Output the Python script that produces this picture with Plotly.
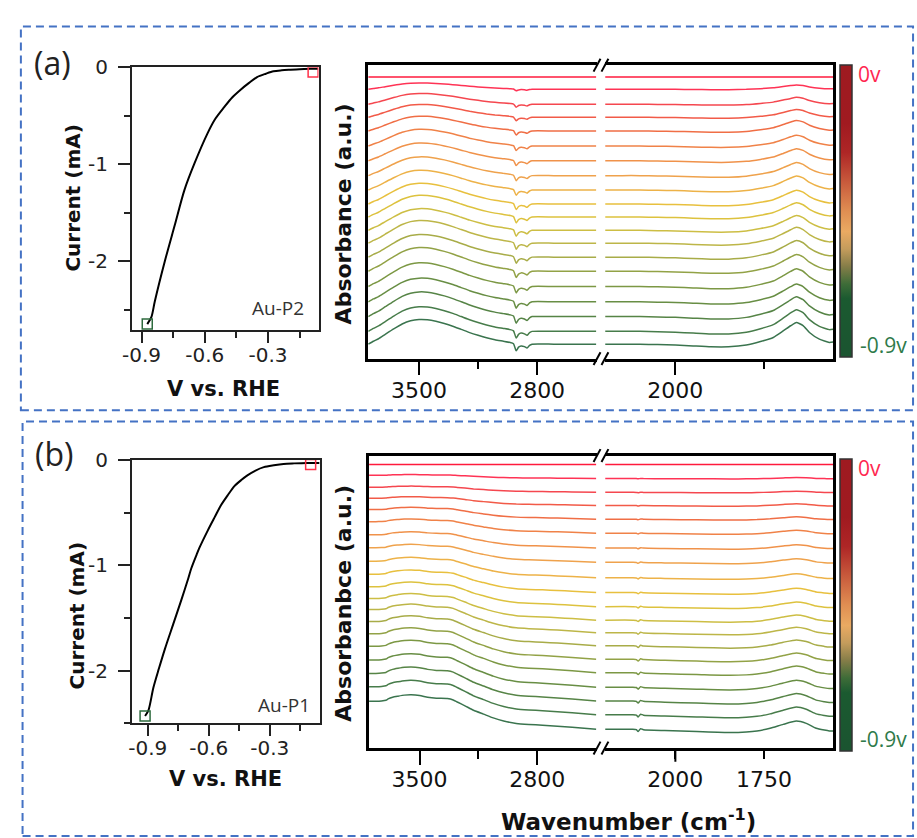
import plotly.graph_objects as go
import numpy as np

W, H = 917, 838
def fx(p): return p / W
def fy(p): return 1 - p / H

# ---------------- LSV data ----------------
lsv_a_v = [-0.873, -0.853, -0.837, -0.79, -0.743, -0.696, -0.649, -0.587, -0.55, -0.508, -0.47,
           -0.43, -0.39, -0.352, -0.31, -0.274, -0.235, -0.196, -0.15, -0.10, -0.063]
lsv_a_i = [-2.645, -2.57, -2.41, -2.0, -1.63, -1.26, -0.99, -0.68, -0.53, -0.41, -0.31,
           -0.23, -0.16, -0.10, -0.065, -0.04, -0.03, -0.024, -0.018, -0.015, -0.014]
lsv_b_v = [-0.913, -0.897, -0.872, -0.845, -0.815, -0.775, -0.735, -0.70, -0.686, -0.66, -0.645,
           -0.605, -0.57, -0.54, -0.505, -0.475, -0.44, -0.41, -0.37, -0.329, -0.28, -0.232, -0.18,
           -0.118, -0.055]
lsv_b_i = [-2.43, -2.38, -2.16, -1.98, -1.79, -1.56, -1.33, -1.12, -1.03, -0.90, -0.83,
           -0.67, -0.54, -0.43, -0.33, -0.25, -0.19, -0.146, -0.10, -0.068, -0.05, -0.037, -0.032,
           -0.028, -0.028]
mark_a_v = [-0.086, -0.873]
mark_a_i = [-0.047, -2.645]
mark_b_v = [-0.099, -0.913]
mark_b_i = [-0.043, -2.43]
mark_colors = ['#FF3048', '#2E6B3E']

lsv_x_ticks = [-0.9, -0.6, -0.3]
lsv_x_ticktext = ['-0.9', '-0.6', '-0.3']
lsv_x_minor = [-0.75, -0.45, -0.15]
lsv_y_ticks = [0, -1, -2]
lsv_y_ticktext = ['0', '-1', '-2']
lsv_y_minor = [-0.5, -1.5, -2.5]

# ---------------- Spectra data (a) ----------------
n_lines = 20
base_a = [0, -12.3, -27.6, -40.8, -54.7, -70.0, -85.0, -100.0, -114.6, -128.8,
          -142.0, -155.5, -168.5, -182.7, -197.0, -212.5, -228.0, -243.0, -258.0, -271.0]
hump_amp_a = [0, 6.3, 11, 13, 15, 17, 18, 19, 20, 21, 22, 22, 23, 23, 24, 24, 24, 25, 25, 25]
bend_amp_a = [0, 4.3, 7, 8, 10.7, 11, 12.3, 13.3, 14.3, 14, 14.5, 15, 16, 17, 17, 18, 18, 20, 22, 22]
wn_left_a = [3800, 3770, 3740, 3700, 3650, 3600, 3550, 3500, 3450, 3400, 3350, 3300, 3250, 3200,
             3150, 3100, 3050, 3000, 2960, 2940, 2924, 2910, 2895, 2875, 2860, 2845, 2830, 2700, 2450]
shape_left_a = [0, 0.12, 0.22, 0.4, 0.62, 0.82, 0.95, 1.0, 0.99, 0.93, 0.84, 0.73, 0.6, 0.47,
                0.36, 0.26, 0.18, 0.12, 0.07, 0.02, -0.27, -0.12, -0.07, -0.1, -0.16, -0.05, 0, 0, 0]
wn_right_a = [2198, 2150, 2100, 2050, 2000, 1950, 1900, 1850, 1800, 1760, 1724, 1696, 1675, 1659,
              1640, 1622, 1594, 1566, 1555]
shape_right_a = [0, 0, 0, -0.02, -0.04, -0.08, -0.12, -0.12, -0.04, 0.12, 0.31, 0.61, 0.85, 1.0,
                 0.86, 0.54, 0.23, 0.08, 0.1]

# ---------------- Spectra data (b) ----------------
base_b = [0, -14.3, -28.3, -41.7, -55.5, -69.7, -84.7, -99.3, -115, -130,
          -144.3, -158, -170.7, -184, -197.7, -211.3, -226, -240, -254, -268.7]
hump_amp_b = [0, 4, 6.3, 9, 12, 14.4, 16.4, 18.3, 20.8, 23, 25, 27, 29, 30.5, 32, 33, 34, 34.5, 35, 35]
bend_amp_b = [0, 1, 1.2, 1.8, 2.3, 3, 3.3, 3.7, 4, 4.3, 4.8, 5.2, 5.5, 6, 6.3, 6.7, 7, 7.5, 7.8, 8.3]
wn_left_b = [3800, 3760, 3726, 3700, 3687, 3660, 3628, 3590, 3550, 3500, 3452, 3400, 3335, 3300,
             3276, 3230, 3179, 3120, 3062, 3000, 2925, 2850, 2769, 2680, 2593, 2450]
shape_left_b = [0.81, 0.81, 0.82, 0.84, 0.88, 0.93, 0.96, 0.99, 1.0, 0.98, 0.93, 0.9, 0.89, 0.85,
                0.79, 0.68, 0.55, 0.44, 0.33, 0.24, 0.17, 0.14, 0.12, 0.09, 0.06, 0]
wn_right_b = [2198, 2120, 2110, 2105, 2098, 2090, 2030, 1940, 1845, 1800, 1770, 1733, 1696, 1659,
              1631, 1603, 1580, 1566, 1555]
shape_right_b = [0, 0, -0.05, -0.28, 0.08, -0.05, -0.16, -0.28, -0.4, -0.33, -0.2, 0.12, 0.6, 1.0,
                 0.72, 0.12, -0.1, -0.2, -0.2]

line_colors = ['#FF1A3C', '#FF3355', '#F5474F', '#F25A48', '#F06E45', '#F08248', '#F0924A', '#EFA24C',
               '#EDB248', '#E8C03E', '#DDC23E', '#CDBE44', '#BDB648', '#A8AC48', '#92A246', '#7C9844',
               '#688E44', '#568446', '#477C4A', '#3A744E']

cbar_scale = [[0, '#1B5430'], [0.2, '#1B5A30'], [0.25, '#3E6C38'], [0.31, '#857D48'],
              [0.37, '#C49C5C'], [0.43, '#EAAA62'], [0.5, '#E08E52'], [0.6, '#C85A3C'],
              [0.7, '#AE2626'], [0.8, '#A01A20'], [1, '#9E1A20']]
potential_range = [-0.9, 0.0]

spec_left_ticks = [3500, 2800]
spec_left_minor = [3150]
spec_right_ticks_a = [2000]
spec_right_minor_a = [1750]
spec_right_ticks_b = [2000, 1750]
spec_long_tick_b = [2000]

fig = go.Figure()

# LSV traces
for v, i, mv, mi, xa, ya in [(lsv_a_v, lsv_a_i, mark_a_v, mark_a_i, 'x', 'y'),
                             (lsv_b_v, lsv_b_i, mark_b_v, mark_b_i, 'x2', 'y2')]:
    fig.add_trace(go.Scatter(x=v, y=i, mode='lines',
                             line=dict(color='black', width=2, shape='spline', smoothing=0.8),
                             xaxis=xa, yaxis=ya, showlegend=False, hoverinfo='skip'))
    fig.add_trace(go.Scatter(x=mv, y=mi, mode='markers',
                             marker=dict(symbol='square-open', size=10,
                                         line=dict(width=1.5, color=mark_colors), color=mark_colors),
                             xaxis=xa, yaxis=ya, showlegend=False, hoverinfo='skip'))

# Spectra traces
def add_spectra(base, hamp, bamp, wl, sl, wr, sr, xl, yl, xr, yr):
    sl = np.array(sl); sr = np.array(sr)
    for k in range(n_lines):
        fig.add_trace(go.Scatter(x=wl, y=base[k] + hamp[k] * sl, mode='lines',
                                 line=dict(color=line_colors[k], width=1.5, shape='spline', smoothing=0.5),
                                 xaxis=xl, yaxis=yl, showlegend=False, hoverinfo='skip'))
        fig.add_trace(go.Scatter(x=wr, y=base[k] + bamp[k] * sr, mode='lines',
                                 line=dict(color=line_colors[k], width=1.5, shape='spline', smoothing=0.5),
                                 xaxis=xr, yaxis=yr, showlegend=False, hoverinfo='skip'))

add_spectra(base_a, hump_amp_a, bend_amp_a, wn_left_a, shape_left_a, wn_right_a, shape_right_a,
            'x3', 'y3', 'x4', 'y4')
add_spectra(base_b, hump_amp_b, bend_amp_b, wn_left_b, shape_left_b, wn_right_b, shape_right_b,
            'x5', 'y5', 'x6', 'y6')

# Colorbars
for (yc, xa, ya) in [(201.85, 'x3', 'y3'), (602, 'x5', 'y5')]:
    fig.add_trace(go.Scatter(
        x=[3000, 3000], y=[-5000, -5000], mode='markers',
        marker=dict(size=1, opacity=0, color=potential_range, colorscale=cbar_scale,
                    cmin=potential_range[0], cmax=potential_range[1], showscale=True,
                    colorbar=dict(x=fx(839.3), xanchor='left', xpad=0, y=fy(yc), yanchor='middle',
                                  ypad=0, len=292, lenmode='pixels', thickness=12,
                                  thicknessmode='pixels', outlinewidth=1.5, outlinecolor='#333',
                                  showticklabels=False, ticks='')),
        xaxis=xa, yaxis=ya, showlegend=False, hoverinfo='skip'))

tick_font_lsv = dict(family='DejaVu Sans', size=20, color='#222')
tick_font_spec = dict(family='DejaVu Sans', size=22, color='#111')

def lsv_x(dom, rng, anchor):
    return dict(domain=dom, range=rng, anchor=anchor, tickmode='array', tickvals=lsv_x_ticks,
                ticktext=lsv_x_ticktext, ticks='outside', ticklen=11, tickwidth=1.5, tickcolor='#222',
                showline=True, linewidth=1.5, linecolor='#222', mirror=True, showgrid=False,
                zeroline=False, tickfont=tick_font_lsv, ticklabelstandoff=-5,
                minor=dict(tickmode='array', tickvals=lsv_x_minor, ticks='outside', ticklen=6,
                           tickwidth=1.5, tickcolor='#222', showgrid=False))

def lsv_y(dom, rng, anchor):
    return dict(domain=dom, range=rng, anchor=anchor, tickmode='array', tickvals=lsv_y_ticks,
                ticktext=lsv_y_ticktext, ticks='outside', ticklen=12, tickwidth=1.5, tickcolor='#222',
                showline=True, linewidth=1.5, linecolor='#222', mirror=True, showgrid=False,
                zeroline=False, tickfont=tick_font_lsv, ticklabelstandoff=6,
                minor=dict(tickmode='array', tickvals=lsv_y_minor, ticks='outside', ticklen=6,
                           tickwidth=1.5, tickcolor='#222', showgrid=False))

def spec_x(dom, rng, anchor, tv, mv, ticklen=14, standoff=-4):
    d = dict(domain=dom, range=rng, anchor=anchor, tickmode='array', tickvals=tv,
             ticks='outside', ticklen=ticklen, tickwidth=2, tickcolor='black',
             showline=True, linewidth=2.5, linecolor='black', mirror=True, showgrid=False,
             zeroline=False, tickfont=tick_font_spec, ticklabelstandoff=standoff)
    if mv:
        d['minor'] = dict(tickmode='array', tickvals=mv, ticks='outside', ticklen=8,
                          tickwidth=2, tickcolor='black', showgrid=False)
    return d

def spec_y(dom, rng, anchor, side):
    return dict(domain=dom, range=rng, anchor=anchor, side=side, showline=True, linewidth=2.5,
                linecolor='black', mirror=False, showticklabels=False, ticks='', showgrid=False,
                zeroline=False)

ya_dom = [fy(351.7), fy(54)]
yb_dom = [fy(746.7), fy(450)]

fig.update_layout(
    width=W, height=H, margin=dict(l=0, r=0, t=0, b=0), autosize=False,
    paper_bgcolor='white', plot_bgcolor='rgba(0,0,0,0)',
    xaxis=lsv_x([fx(123), fx(312)], [-0.947, -0.06], 'y'),
    yaxis=lsv_y([fy(323), fy(56)], [-2.71, 0.002], 'x'),
    xaxis2=lsv_x([fx(123), fx(313)], [-0.979, -0.055], 'y2'),
    yaxis2=lsv_y([fy(721.7), fy(454.3)], [-2.5, 0.002], 'x2'),
    xaxis3=spec_x([fx(362), fx(593)], [3802, 2448], 'y3', spec_left_ticks, spec_left_minor),
    yaxis3=spec_y(ya_dom, [-285.7, 12], 'x3', 'left'),
    xaxis4=spec_x([fx(601.7), fx(832.3)], [2198, 1555], 'y4', spec_right_ticks_a, spec_right_minor_a),
    yaxis4=spec_y(ya_dom, [-285.7, 12], 'x4', 'right'),
    xaxis5=spec_x([fx(362.7), fx(593)], [3802, 2448], 'y5', spec_left_ticks, spec_left_minor),
    yaxis5=spec_y(yb_dom, [-287.7, 9], 'x5', 'left'),
    xaxis6=spec_x([fx(601.7), fx(832.3)], [2198, 1555], 'y6', spec_right_ticks_b, None,
                  ticklen=8, standoff=2),
    yaxis6=spec_y(yb_dom, [-287.7, 9], 'x6', 'right'),
)

# longer tick at 2000 on panel (b) right segment
for t in spec_long_tick_b:
    fig.add_shape(type='line', xref='x6', yref='paper', x0=t, x1=t, y0=fy(746.7), y1=fy(746.7 + 14),
                  line=dict(color='black', width=2))

# Dashed panel boxes
box_line = dict(color='#4472C4', width=2, dash='8px,5px')
fig.add_shape(type='rect', xref='paper', yref='paper', x0=fx(11), x1=fx(913), y0=fy(404), y1=fy(14.7),
              line=box_line)
fig.add_shape(type='rect', xref='paper', yref='paper', x0=fx(12.7), x1=fx(913), y0=fy(836), y1=fy(415.5),
              line=box_line)

# Axis break marks
for yb in [54, 351.7, 450, 746.7]:
    for x0 in [590, 598]:
        fig.add_shape(type='line', xref='paper', yref='paper', x0=fx(x0), x1=fx(x0 + 7),
                      y0=fy(yb + 6.5), y1=fy(yb - 6.5), line=dict(color='black', width=2))

ann = []
def A(text, x, y, size, family='DejaVu Sans', color='#111', angle=0, xanchor='center'):
    ann.append(dict(text=text, x=fx(x), y=fy(y), xref='paper', yref='paper', showarrow=False,
                    font=dict(family=family, size=size, color=color), textangle=angle,
                    xanchor=xanchor, yanchor='middle'))

A('(a)', 43, 51, 32, family='Open Sans', color='#222')
A('(b)', 44, 448, 32, family='Open Sans', color='#222')
A('Au-P2', 271, 300, 19, family='Open Sans', color='#333')
A('Au-P1', 277, 703, 19, family='Open Sans', color='#333')
A('<b>Current (mA)</b>', 64, 188, 20, angle=-90)
A('<b>Current (mA)</b>', 68, 612, 20, angle=-90)
A('<b>V vs. RHE</b>', 216, 382, 21)
A('<b>V vs. RHE</b>', 218, 778, 21)
A('<b>Absorbance (a.u.)</b>', 337, 205, 22, angle=-90)
A('<b>Absorbanbce (a.u.)</b>', 337, 600, 22, angle=-90)
A('<b>Wavenumber (cm<sup>-1</sup>)</b>', 625, 820, 23)
A('0v', 855, 63, 21, family='Open Sans', color='#FF2850', xanchor='left')
A('-0.9v', 857, 338, 21, family='Open Sans', color='#2F7A4A', xanchor='left')
A('0v', 855, 463, 21, family='Open Sans', color='#FF2850', xanchor='left')
A('-0.9v', 857, 738, 21, family='Open Sans', color='#2F7A4A', xanchor='left')
fig.update_layout(annotations=ann)

fig.write_html('out.html')
